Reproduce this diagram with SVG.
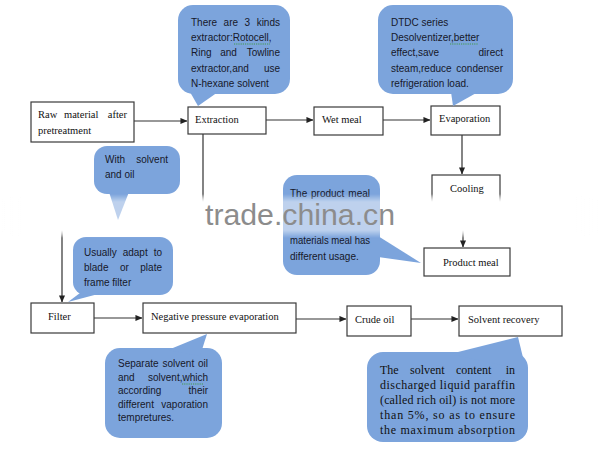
<svg xmlns="http://www.w3.org/2000/svg" width="600" height="450" viewBox="0 0 600 450">
<defs>
<marker id="arr" viewBox="0 0 8 8" refX="7.5" refY="4" markerWidth="7" markerHeight="7" markerUnits="userSpaceOnUse" orient="auto">
<path d="M0,0.5 L8,4 L0,7.5 Z" fill="#222"/>
</marker>
<linearGradient id="strip" x1="0" y1="0" x2="1" y2="0">
<stop offset="0" stop-color="#fff" stop-opacity="0"/>
<stop offset="0.04" stop-color="#fff" stop-opacity="1"/>
<stop offset="0.96" stop-color="#fff" stop-opacity="1"/>
<stop offset="1" stop-color="#fff" stop-opacity="0"/>
</linearGradient>
<linearGradient id="stripv" x1="0" y1="0" x2="0" y2="1">
<stop offset="0" stop-color="#fff" stop-opacity="0"/>
<stop offset="0.18" stop-color="#fff" stop-opacity="1"/>
<stop offset="0.82" stop-color="#fff" stop-opacity="1"/>
<stop offset="1" stop-color="#fff" stop-opacity="0"/>
</linearGradient>
<mask id="stripmask">
<rect x="0" y="194" width="600" height="44" fill="url(#stripv)"/>
</mask>
</defs>
<style>
.box{fill:#fff;stroke:#3a3a3a;stroke-width:1.2}
.bt{font-family:"Liberation Serif","Times New Roman",serif;font-size:10.5px;fill:#111}
.call{fill:#7ca4dc}
.ct{font-family:"Liberation Sans",Arial,sans-serif;font-size:10px;fill:#16182a}
.cs{font-family:"Liberation Serif","Times New Roman",serif;font-size:12px;fill:#111}
.con{fill:none;stroke:#333;stroke-width:1.2}
.sq{fill:none;stroke:#3c9a3c;stroke-width:0.9;stroke-dasharray:1.2 1}
.wm{font-family:"Liberation Sans",Arial,sans-serif;font-size:29px;fill:#8c8c8c}
</style>
<rect width="600" height="450" fill="#fff"/>

<g id="connectors">
<line class="con" x1="134" y1="121" x2="187" y2="121" marker-end="url(#arr)"/>
<line class="con" x1="266" y1="120" x2="313" y2="120" marker-end="url(#arr)"/>
<line class="con" x1="383" y1="120" x2="430" y2="120" marker-end="url(#arr)"/>
<line class="con" x1="462" y1="135" x2="462" y2="174" marker-end="url(#arr)"/>
<line class="con" x1="463" y1="205" x2="463" y2="247" marker-end="url(#arr)"/>
<polyline class="con" points="203,134 203,215 62,215 62,302" marker-end="url(#arr)"/>
<line class="con" x1="94" y1="318" x2="142" y2="318" marker-end="url(#arr)"/>
<line class="con" x1="296" y1="319" x2="346" y2="319" marker-end="url(#arr)"/>
<line class="con" x1="411" y1="319" x2="458" y2="319" marker-end="url(#arr)"/>
</g>

<g id="raw">
<rect class="box" x="31" y="102" width="103" height="40"/>
<text class="bt" y="118"><tspan x="38">Raw</tspan><tspan x="64">material</tspan><tspan x="127" text-anchor="end">after</tspan></text>
<text class="bt" x="38" y="134">pretreatment</text>
</g>
<g id="extraction">
<rect class="box" x="188" y="107" width="78" height="27"/>
<text class="bt" x="195" y="123">Extraction</text>
</g>
<g id="wetmeal">
<rect class="box" x="314" y="107" width="69" height="28"/>
<text class="bt" x="322" y="123">Wet meal</text>
</g>
<g id="evaporation">
<rect class="box" x="431" y="106" width="69" height="29"/>
<text class="bt" x="439" y="122">Evaporation</text>
</g>
<g id="cooling">
<rect class="box" x="432" y="175" width="68" height="32"/>
<text class="bt" x="450" y="192">Cooling</text>
</g>
<g id="productmeal">
<rect class="box" x="424" y="248" width="86" height="28"/>
<text class="bt" x="443" y="266">Product meal</text>
</g>
<g id="filter">
<rect class="box" x="31" y="303" width="63" height="30"/>
<text class="bt" x="48" y="320">Filter</text>
</g>
<g id="negative">
<rect class="box" x="143" y="303" width="153" height="30"/>
<text class="bt" x="151" y="320">Negative pressure evaporation</text>
</g>
<g id="crudeoil">
<rect class="box" x="347" y="306" width="64" height="30"/>
<text class="bt" x="355" y="323">Crude oil</text>
</g>
<g id="solventrecovery">
<rect class="box" x="459" y="306" width="103" height="30"/>
<text class="bt" x="468" y="323">Solvent recovery</text>
</g>

<rect id="strip-back" x="0" y="194" width="600" height="44" fill="url(#strip)" mask="url(#stripmask)"/>

<g id="note-extractor">
<rect class="call" x="178" y="5" width="112" height="89" rx="15"/>
<polygon class="call" points="190,92 198,106 218,92"/>
<text class="ct" y="26"><tspan x="191">There</tspan><tspan x="223.6">are</tspan><tspan x="244.6">3</tspan><tspan x="280" text-anchor="end">kinds</tspan></text>
<text class="ct" x="191" y="41">extractor:Rotocell,</text>
<text class="ct" y="56"><tspan x="191">Ring</tspan><tspan x="220.2">and</tspan><tspan x="280" text-anchor="end">Towline</tspan></text>
<text class="ct" y="72"><tspan x="191">extractor,and</tspan><tspan x="280" text-anchor="end">use</tspan></text>
<text class="ct" x="191" y="87">N-hexane solvent</text>
<line class="sq" x1="234" y1="44" x2="270" y2="44"/>
</g>

<g id="note-dtdc">
<rect class="call" x="378" y="5" width="135" height="89" rx="15"/>
<polygon class="call" points="451,92 453,106 478,92"/>
<text class="ct" x="391" y="26">DTDC series</text>
<text class="ct" x="391" y="41">Desolventizer,better</text>
<text class="ct" y="56"><tspan x="391">effect,save</tspan><tspan x="503" text-anchor="end">direct</tspan></text>
<text class="ct" y="72"><tspan x="391">steam,reduce</tspan><tspan x="503" text-anchor="end">condenser</tspan></text>
<text class="ct" x="391" y="87">refrigeration load.</text>
<line class="sq" x1="450" y1="44" x2="478" y2="44"/>
</g>

<g id="note-solvent-oil">
<rect class="call" x="94" y="146" width="86" height="48" rx="13"/>
<polygon class="call" points="109,192 118,220 129,192"/>
<text class="ct" y="163"><tspan x="105">With</tspan><tspan x="168" text-anchor="end">solvent</tspan></text>
<text class="ct" x="105" y="178">and oil</text>
</g>

<g id="note-product">
<rect class="call" x="283" y="175" width="97" height="100" rx="14"/>
<polygon class="call" points="378,236 421,263 378,257"/>
<text class="ct" y="197"><tspan x="290">The</tspan><tspan x="311">product</tspan><tspan x="370" text-anchor="end">meal</tspan></text>
<text class="ct" x="290" y="244" textLength="80" lengthAdjust="spacingAndGlyphs">materials meal has</text>
<text class="ct" x="290" y="260">different usage.</text>
</g>

<g id="note-filter">
<rect class="call" x="73" y="237" width="100" height="58" rx="13"/>
<polygon class="call" points="80,293 68,302 102,293"/>
<text class="ct" y="256"><tspan x="84">Usually</tspan><tspan x="122.7">adapt</tspan><tspan x="162" text-anchor="end">to</tspan></text>
<text class="ct" y="271"><tspan x="84">blade</tspan><tspan x="120">or</tspan><tspan x="162" text-anchor="end">plate</tspan></text>
<text class="ct" x="84" y="286">frame filter</text>
</g>

<g id="note-separate">
<rect class="call" x="105" y="348" width="117" height="90" rx="15"/>
<polygon class="call" points="168,350 207,334 200,356"/>
<text class="ct" y="367"><tspan x="118">Separate</tspan><tspan x="162.5">solvent</tspan><tspan x="208" text-anchor="end">oil</tspan></text>
<text class="ct" y="381"><tspan x="118">and</tspan><tspan x="208" text-anchor="end">solvent,which</tspan></text>
<text class="ct" y="394"><tspan x="118">according</tspan><tspan x="208" text-anchor="end">their</tspan></text>
<text class="ct" y="408"><tspan x="118">different</tspan><tspan x="208" text-anchor="end">vaporation</tspan></text>
<text class="ct" x="118" y="421">tempretures.</text>
<line class="sq" x1="182" y1="384" x2="204" y2="384"/>
</g>

<g id="note-recovery">
<rect class="call" x="367" y="352" width="161" height="90" rx="16"/>
<polygon class="call" points="450,354 518,337 526,370"/>
<text class="cs" y="374"><tspan x="380">The</tspan><tspan x="410">solvent</tspan><tspan x="456">content</tspan><tspan x="515" text-anchor="end">in</tspan></text>
<text class="cs" x="380" y="389" textLength="135" lengthAdjust="spacing">discharged liquid paraffin</text>
<text class="cs" x="380" y="404" textLength="135" lengthAdjust="spacing">(called rich oil) is not more</text>
<text class="cs" x="380" y="419" textLength="135" lengthAdjust="spacing">than 5%, so as to ensure</text>
<text class="cs" x="380" y="434" textLength="135" lengthAdjust="spacing">the maximum absorption</text>
</g>

<g id="watermark">
<rect x="0" y="194" width="600" height="44" fill="url(#strip)" mask="url(#stripmask)" opacity="0.5"/>
<text class="wm" x="205" y="225" textLength="190" lengthAdjust="spacingAndGlyphs">trade.china.cn</text>
</g>
</svg>
